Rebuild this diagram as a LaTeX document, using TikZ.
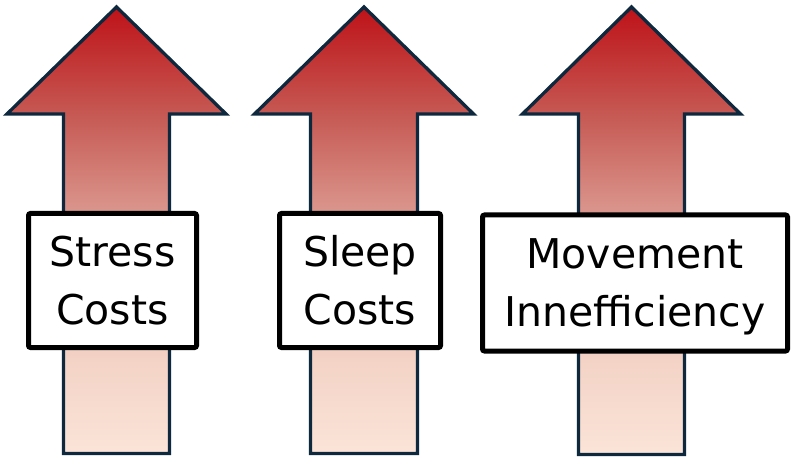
\documentclass[tikz,border=0pt]{standalone}
\usepackage{fontspec}
\setmainfont{DejaVu Sans}

\definecolor{arrowline}{RGB}{14,40,62}
\definecolor{topred}{RGB}{190,18,24}
\definecolor{headred}{RGB}{198,90,84}
\definecolor{midrose}{RGB}{217,146,137}
\definecolor{lowpeach}{RGB}{243,211,198}
\definecolor{basepeach}{RGB}{251,228,216}

\pgfdeclareverticalshading{arrowshade}{100bp}{
  color(0bp)=(basepeach); color(25bp)=(basepeach);
  color(35.6bp)=(lowpeach); color(52.8bp)=(midrose);
  color(62.8bp)=(headred); color(75bp)=(topred); color(100bp)=(topred)}

\tikzset{
  uparrow/.style={draw=arrowline, line width=3.3pt, line join=miter, shade, shading=arrowshade},
  costbox/.style={draw=black, fill=white, line width=5pt, rounded corners=2pt,
    align=center, inner sep=0pt, minimum height=134pt,
    font=\fontsize{41}{58}\selectfont}
}

\begin{document}
\begin{tikzpicture}[x=1pt,y=-1pt]
\useasboundingbox (0,0) rectangle (795,462);

% arrows
\path[uparrow] (116.5,7) -- (226,114) -- (169.5,114) -- (169.5,453.5)
  -- (63.5,453.5) -- (63.5,114) -- (7,114) -- cycle;
\path[uparrow] (364,7) -- (473.5,114) -- (417.5,114) -- (417.5,453.5)
  -- (310.5,453.5) -- (310.5,114) -- (254.5,114) -- cycle;
\path[uparrow] (631.5,7) -- (740.5,114) -- (684.5,114) -- (684.5,454.5)
  -- (578.5,454.5) -- (578.5,114) -- (522.5,114) -- cycle;

% labels
\node[costbox, minimum width=168pt] (stress) at (112.5,280.5) {Stress\\Costs};
\node[costbox, minimum width=161pt] (sleep) at (360,280.5) {Sleep\\Costs};
\node[costbox, minimum width=305pt, minimum height=136pt] (movement) at (635,283)
  {Movement\\\raisebox{0pt}[\height][0pt]{Innefficiency}};
\end{tikzpicture}
\end{document}
